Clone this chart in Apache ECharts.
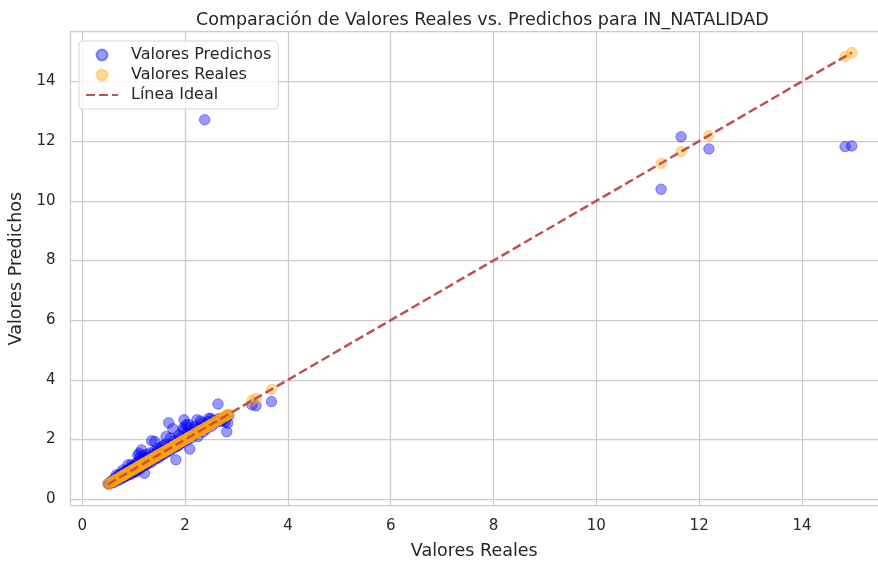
<!DOCTYPE html>
<html>
<head>
<meta charset="utf-8">
<script src="https://cdn.jsdelivr.net/npm/echarts@6/dist/echarts.min.js"></script>
<style>
  html, body { margin: 0; padding: 0; background: #fff; }
  #chart { width: 878px; height: 562px; }
</style>
</head>
<body>
<div id="chart"></div>
<script>
// valores reales (y_test) y predichos
const valoresReales = [
  0.50, 0.52, 0.55, 0.58, 0.60, 0.62, 0.65, 0.67, 0.70, 0.72,
  0.74, 0.76, 0.78, 0.80, 0.82, 0.84, 0.86, 0.88, 0.89, 0.90,
  0.92, 0.94, 0.95, 0.97, 0.98, 1.00, 1.02, 1.03, 1.05, 1.06,
  1.08, 1.10, 1.11, 1.12, 1.14, 1.15, 1.17, 1.18, 1.20, 1.21,
  1.22, 1.24, 1.25, 1.27, 1.28, 1.30, 1.32, 1.33, 1.35, 1.36,
  1.38, 1.40, 1.41, 1.42, 1.44, 1.45, 1.47, 1.48, 1.50, 1.52,
  1.54, 1.55, 1.57, 1.58, 1.60, 1.62, 1.63, 1.65, 1.67, 1.68,
  1.70, 1.72, 1.74, 1.76, 1.78, 1.80, 1.82, 1.83, 1.85, 1.87,
  1.88, 1.90, 1.92, 1.94, 1.96, 1.98, 2.00, 2.02, 2.04, 2.05,
  2.07, 2.09, 2.10, 2.12, 2.15, 2.18, 2.20, 2.23, 2.25, 2.28,
  2.30, 2.33, 2.35, 2.38, 2.40, 2.42, 2.45, 2.48, 2.50, 2.52,
  2.55, 2.58, 2.62, 2.64, 2.66, 2.70, 2.74, 2.78, 2.80, 2.81,
  2.83, 2.85, 3.30, 3.38, 3.68, 11.26, 11.65, 12.19, 14.84, 14.97,
  0.66, 0.79, 0.95, 1.08, 1.15, 1.76, 1.96, 2.06, 2.30, 2.46
];
const valoresPredichos = [
  0.52, 0.50, 0.58, 0.55, 0.66, 0.57, 0.72, 0.62, 0.78, 0.64,
  0.87, 0.70, 0.83, 0.72, 0.92, 0.76, 0.96, 0.80, 1.15, 0.85,
  1.02, 0.83, 1.05, 0.88, 1.10, 0.92, 1.12, 0.90, 1.20, 0.95,
  1.25, 1.00, 1.54, 1.40, 1.05, 1.30, 1.10, 1.45, 1.12, 0.87,
  1.35, 1.15, 1.50, 1.20, 1.40, 1.25, 1.55, 1.22, 1.96, 1.45,
  1.30, 1.60, 1.93, 1.35, 1.55, 1.40, 1.70, 1.38, 1.65, 1.45,
  1.75, 1.48, 1.60, 1.80, 1.52, 1.85, 2.10, 1.58, 1.75, 2.56,
  1.62, 2.05, 1.80, 1.70, 1.95, 1.75, 1.32, 1.76, 2.00, 1.80,
  2.15, 1.85, 2.10, 1.90, 2.30, 2.66, 1.95, 2.49, 2.20, 2.00,
  2.40, 1.68, 2.25, 2.05, 2.35, 2.15, 2.45, 2.66, 2.10, 2.40,
  2.30, 2.55, 2.25, 12.72, 2.50, 2.35, 2.60, 2.49, 2.70, 2.45,
  2.65, 2.55, 2.60, 3.19, 2.70, 2.60, 2.65, 2.59, 2.75, 2.26,
  2.55, 2.80, 3.16, 3.13, 3.27, 10.39, 12.15, 11.74, 11.82, 11.84,
  0.81, 0.98, 1.15, 1.48, 1.65, 2.36, 2.38, 2.50, 2.62, 2.71
];
const xTicks = [0, 2, 4, 6, 8, 10, 12, 14];
const yTicks = [0, 2, 4, 6, 8, 10, 12, 14];

const puntosPredichos = valoresReales.map((v, i) => [v, valoresPredichos[i]]);
const puntosReales = valoresReales.map(v => [v, v]);
const minReal = Math.min(...valoresReales);
const maxReal = Math.max(...valoresReales);
const lineaIdeal = [[minReal, minReal], [maxReal, maxReal]];

const font = 'DejaVu Sans';
const textColor = '#262626';
const gridColor = '#cccccc';

const chart = echarts.init(document.getElementById('chart'), null, { renderer: 'canvas' });

const spine = { show: true, onZero: false, lineStyle: { color: gridColor, width: 1.25 } };

const option = {
  backgroundColor: '#fff',
  animation: false,
  title: {
    text: 'Comparación de Valores Reales vs. Predichos para IN_NATALIDAD',
    left: 191,
    top: 6,
    textStyle: { fontFamily: font, fontSize: 17.5, fontWeight: 'normal', color: textColor }
  },
  legend: {
    orient: 'vertical',
    left: 79,
    top: 41,
    itemWidth: 32,
    itemHeight: 11,
    itemGap: 4,
    padding: [6, 7, 6, 6],
    backgroundColor: 'rgba(255,255,255,0.8)',
    borderColor: '#d6d6d6',
    borderWidth: 1,
    borderRadius: 4,
    textStyle: { fontFamily: font, fontSize: 16, color: textColor, padding: [0, 0, 0, 8] },
    data: [
      { name: 'Valores Predichos', icon: 'circle' },
      { name: 'Valores Reales', icon: 'circle' },
      { name: 'Línea Ideal', itemStyle: { color: 'rgba(0,0,0,0)', borderWidth: 0 } }
    ]
  },
  grid: {
    left: 70.5,
    top: 31.7,
    right: 0,
    bottom: 56.3,
    show: false,
    containLabel: false,
    outerBoundsMode: 'none'
  },
  xAxis: [
    {
      type: 'value',
      min: -0.23,
      max: 15.48,
      name: 'Valores Reales',
      nameLocation: 'middle',
      nameGap: 37,
      nameTextStyle: { fontFamily: font, fontSize: 17.5, color: textColor },
      axisLine: spine,
      axisTick: { show: false, customValues: xTicks },
      axisLabel: { fontFamily: font, fontSize: 15, color: textColor, margin: 13, customValues: xTicks },
      splitLine: { show: true, lineStyle: { color: gridColor, width: 1.25 } }
    },
    {
      type: 'value',
      position: 'top',
      min: -0.23,
      max: 15.48,
      axisLine: spine,
      axisTick: { show: false },
      axisLabel: { show: false },
      splitLine: { show: false }
    }
  ],
  yAxis: {
    type: 'value',
    min: -0.22,
    max: 15.67,
    name: 'Valores Predichos',
    nameLocation: 'middle',
    nameGap: 42,
    nameRotate: 90,
    nameTextStyle: { fontFamily: font, fontSize: 17.5, color: textColor },
    axisLine: spine,
    axisTick: { show: false, customValues: yTicks },
    axisLabel: { fontFamily: font, fontSize: 15, color: textColor, margin: 15, customValues: yTicks },
    splitLine: { show: true, lineStyle: { color: gridColor, width: 1.25 } }
  },
  series: [
    {
      name: 'Valores Predichos',
      type: 'scatter',
      data: puntosPredichos,
      symbolSize: 10.5,
      itemStyle: { color: 'rgba(0,0,255,0.5)', borderColor: 'rgba(0,0,255,0.5)', borderWidth: 1 }
    },
    {
      name: 'Valores Reales',
      type: 'scatter',
      data: puntosReales,
      symbolSize: 10.5,
      itemStyle: { color: 'rgba(255,165,0,0.5)', borderColor: 'rgba(255,165,0,0.5)', borderWidth: 1 }
    },
    {
      name: 'Línea Ideal',
      type: 'line',
      data: lineaIdeal,
      symbol: 'none',
      lineStyle: { color: '#c44e52', width: 2.5, type: [9, 4] },
      itemStyle: { color: '#c44e52' }
    }
  ]
};

chart.setOption(option);
</script>
</body>
</html>
